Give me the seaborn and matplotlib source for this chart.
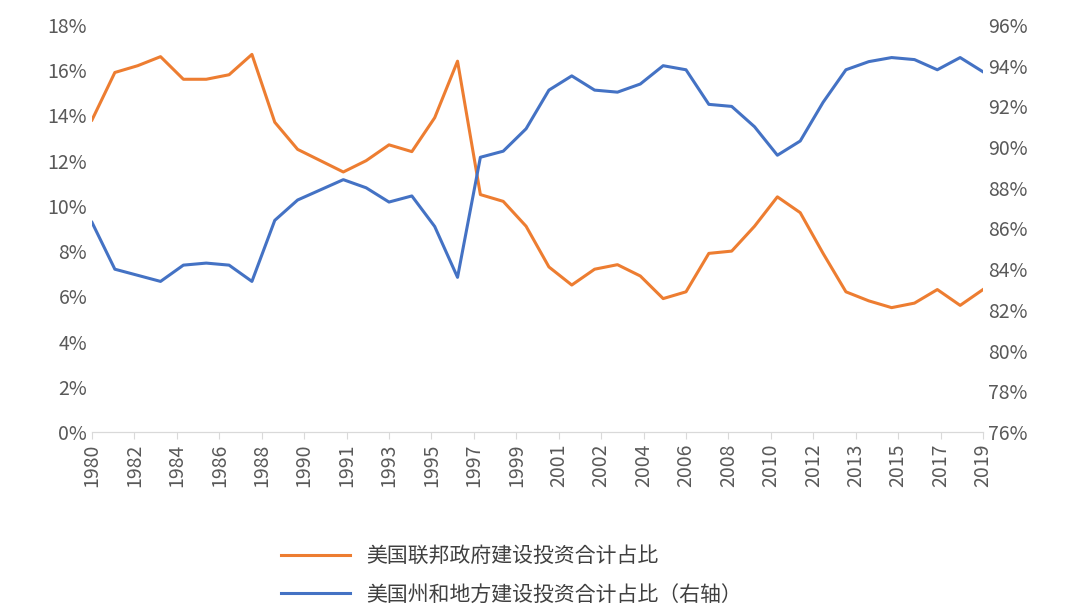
import matplotlib
matplotlib.use("Agg")
import matplotlib.pyplot as plt
from matplotlib import font_manager
import seaborn as sns
import numpy as np
import pandas as pd

cands = [f.name for f in font_manager.fontManager.ttflist if "CJK" in f.name]
cjk = "Noto Sans CJK SC" if "Noto Sans CJK SC" in cands else (cands[0] if cands else "DejaVu Sans")
plt.rcParams["font.family"] = "sans-serif"
plt.rcParams["font.sans-serif"] = [cjk, "DejaVu Sans"]

years = list(range(1980, 2020))
federal = [13.8, 15.9, 16.2, 16.6, 15.6, 15.6, 15.8, 16.7, 13.7, 12.5, 12.0, 11.5, 12.0, 12.7, 12.4,
           13.9, 16.4, 10.5, 10.2, 9.1, 7.3, 6.5, 7.2, 7.4, 6.9, 5.9, 6.2, 7.9, 8.0, 9.1,
           10.4, 9.7, 7.9, 6.2, 5.8, 5.5, 5.7, 6.3, 5.6, 6.3]
state = [86.3, 84.0, 83.7, 83.4, 84.2, 84.3, 84.2, 83.4, 86.4, 87.4, 87.9, 88.4, 88.0, 87.3, 87.6,
         86.1, 83.6, 89.5, 89.8, 90.9, 92.8, 93.5, 92.8, 92.7, 93.1, 94.0, 93.8, 92.1, 92.0, 91.0,
         89.6, 90.3, 92.2, 93.8, 94.2, 94.4, 94.3, 93.8, 94.4, 93.7]
tick_labels = ["1980", "1982", "1984", "1986", "1988", "1990", "1991", "1993", "1995", "1997", "1999",
               "2001", "2002", "2004", "2006", "2008", "2010", "2012", "2013", "2015", "2017", "2019"]
label_fed = "美国联邦政府建设投资合计占比"
label_state = "美国州和地方建设投资合计占比（右轴）"

df = pd.DataFrame({"pos": np.arange(len(years)), "fed": federal, "state": state})
orange, blue = "#ED7D31", "#4472C4"

fig = plt.figure(figsize=(10.8, 6.15), dpi=100)
ax = fig.add_axes([92/1080, 1-432/615, (983-92)/1080, (432-25)/615])
ax2 = ax.twinx()
sns.lineplot(data=df, x="pos", y="fed", ax=ax, color=orange, lw=2.2, label=label_fed, legend=False)
sns.lineplot(data=df, x="pos", y="state", ax=ax2, color=blue, lw=2.2, label=label_state, legend=False)

ax.set_xlim(0, len(years) - 1)
ax.set_ylim(0, 18)
ax2.set_ylim(76, 96)
ax.set_yticks(np.arange(0, 19, 2))
ax.set_yticklabels([f"{v}%" for v in range(0, 19, 2)])
ax2.set_yticks(np.arange(76, 97, 2))
ax2.set_yticklabels([f"{v}%" for v in range(76, 97, 2)])
ax.set_xticks(np.linspace(0, len(years) - 1, len(tick_labels)))
ax.set_xticklabels(tick_labels, rotation=90)
for a in (ax, ax2):
    a.set_xlabel(""); a.set_ylabel("")
    for s in ["top", "left", "right"]:
        a.spines[s].set_visible(False)
    a.spines["bottom"].set_color("#D9D9D9")
    a.tick_params(labelsize=14, colors="#595959", length=0)
ax.tick_params(axis="x", length=5, color="#D9D9D9")

h1, l1 = ax.get_legend_handles_labels()
h2, l2 = ax2.get_legend_handles_labels()
fig.legend(h1 + h2, l1 + l2, loc="lower left", bbox_to_anchor=(262/1080, -0.015), frameon=False,
           fontsize=15, labelcolor="#404040", handlelength=3.3, labelspacing=0.8)
fig.savefig("out.png", dpi=100)
